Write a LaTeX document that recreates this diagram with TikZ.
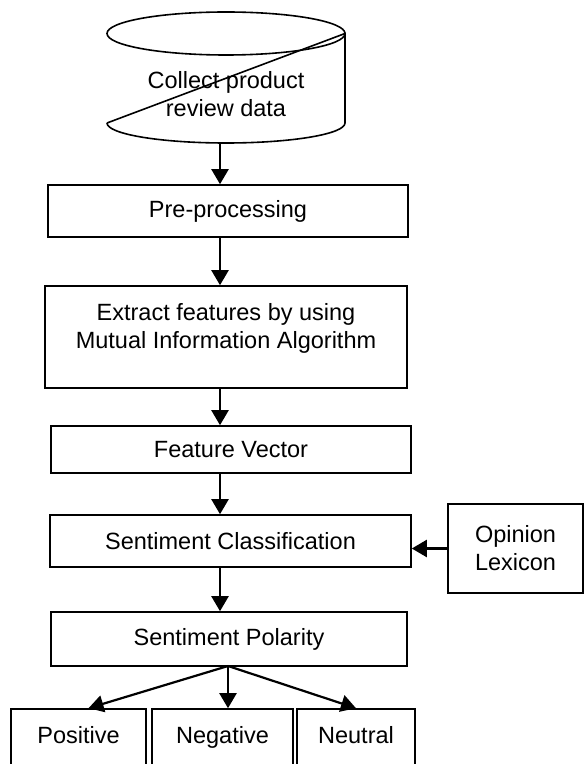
\documentclass[tikz,border=0pt]{standalone}
\usepackage{fontspec}
\setmainfont{Liberation Sans}
\usetikzlibrary{arrows.meta}
\begin{document}
\begin{tikzpicture}[x=0.5pt, y=-0.5pt, >={Triangle[width=8.5pt,length=7.5pt]},
    box/.style={draw, line width=0.8pt, inner sep=0pt, align=center, font=\fontsize{11.75}{14}\selectfont},
    leaf/.style={box, minimum height=28pt, text height=8.5pt, text depth=2.5pt},
    txt/.style={align=center, font=\fontsize{11.75}{14}\selectfont},
    flow/.style={->, line width=1.1pt}]
\clip (0,0) rectangle (584,764);
\draw[line width=0.8pt] (226,33.5) ellipse [x radius=119, y radius=21.5];
\draw[line width=0.8pt] (107,123) -- (345,33.5) -- (345,123) arc [start angle=0, end angle=180, x radius=119, y radius=20];
\node[txt] (collect) at (226,94) {Collect product\\review data};
\coordinate (cylbot) at (220,143);
\coordinate (spine) at (220,0);
\node[box, minimum width=180pt, minimum height=26pt] (pre) at (228,211) {Pre-processing};
\node[box, minimum width=181pt, minimum height=51pt] (extract) at (226,337) {Extract features by using\\Mutual Information Algorithm\\[-7.5pt] \strut};
\node[box, minimum width=180pt, minimum height=23.5pt] (feature) at (231,449.5) {Feature Vector};
\node[box, minimum width=180.5pt, minimum height=26pt] (classif) at (230.5,541) {Sentiment Classification};
\node[box, minimum width=67.5pt, minimum height=44.5pt] (opinion) at (515.5,548.5) {Opinion\\Lexicon};
\node[box, minimum width=178pt, minimum height=27pt] (polarity) at (229,639) {Sentiment Polarity};
\node[leaf, minimum width=67.5pt] (positive) at (78.5,737) {Positive};
\node[leaf, minimum width=70.5pt] (negative) at (222.5,737) {Negative};
\node[leaf, minimum width=59pt] (neutral) at (356,737) {Neutral};
\coordinate (fork) at (228,666);
\draw[flow] (cylbot) -- (cylbot |- pre.north);
\draw[flow] (pre.south -| spine) -- (extract.north -| spine);
\draw[flow] (extract.south -| spine) -- (feature.north -| spine);
\draw[flow] (feature.south -| spine) -- (classif.north -| spine);
\draw[flow] (classif.south -| spine) -- (polarity.north -| spine);
\draw[flow] (opinion.west) -- (classif.east |- opinion.west);
\draw[flow] (fork) -- ([xshift=5pt]positive.north);
\draw[flow] (fork) -- (fork |- negative.north);
\draw[flow] (fork) -- (neutral.north);
\end{tikzpicture}
\end{document}
